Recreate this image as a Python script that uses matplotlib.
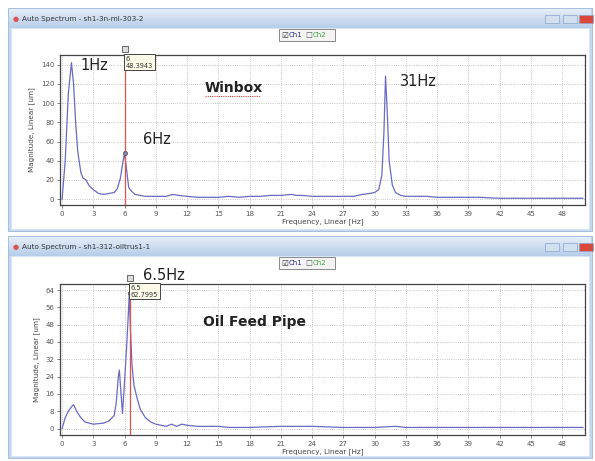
import matplotlib
matplotlib.use("Agg")
import matplotlib.pyplot as plt
import numpy as np
from matplotlib.patches import Rectangle

W, H = 595, 461

# Winbox spectrum (top)
freq_top = [0.0, 0.3, 0.6, 0.9, 1.1, 1.3, 1.5, 1.8, 2.0, 2.3, 2.6, 3.0, 3.5, 4.0, 4.5, 5.0,
            5.3, 5.6, 5.8, 6.0, 6.2, 6.4, 6.7, 7.0, 7.5, 8.0, 9.0, 10.0, 10.6, 11.2, 12.0,
            13.0, 14.0, 15.0, 16.0, 17.0, 18.0, 19.0, 20.0, 21.0, 22.0, 22.5, 23.0, 24.0,
            25.0, 26.0, 27.0, 28.0, 28.8, 29.5, 30.0, 30.4, 30.7, 30.9, 31.05, 31.2, 31.4,
            31.7, 32.0, 32.5, 33.0, 34.0, 35.0, 36.0, 38.0, 40.0, 42.0, 45.0, 48.0, 50.0]
mag_top = [0, 40, 110, 142, 120, 80, 50, 28, 22, 20, 14, 10, 6, 5, 6, 7,
           11, 22, 36, 48, 30, 12, 8, 5, 4, 3, 3, 3, 5, 4, 3,
           2, 2, 2, 3, 2, 3, 3, 4, 4, 5, 4, 4, 3,
           3, 3, 3, 3, 5, 6, 7, 10, 25, 70, 128, 95, 40,
           15, 7, 4, 3, 3, 3, 2, 2, 2, 1, 1, 1, 1]

# Oil feed pipe spectrum (bottom)
freq_bot = [0.0, 0.3, 0.6, 0.9, 1.1, 1.4, 1.8, 2.2, 3.0, 4.0, 4.5, 5.0, 5.2, 5.4, 5.5,
            5.6, 5.8, 6.0, 6.2, 6.35, 6.45, 6.55, 6.7, 6.9, 7.2, 7.5, 8.0, 8.5, 9.0,
            10.0, 10.5, 11.0, 11.5, 12.0, 13.0, 15.0, 16.0, 18.0, 21.0, 24.0, 27.0,
            30.0, 32.0, 33.0, 36.0, 40.0, 45.0, 50.0]
mag_bot = [0, 5, 8, 10, 11, 8, 5, 3, 2, 2.5, 3.5, 6, 12, 24, 27,
           20, 7, 22, 38, 52, 62.8, 48, 30, 20, 14, 9, 5, 3, 2,
           1, 2, 1, 2, 1.5, 1, 1, 0.5, 0.5, 1, 1, 0.5,
           0.5, 1, 0.5, 0.5, 0.5, 0.5, 0.5]

x_ticks = list(range(0, 49, 3))
y_ticks_top = list(range(0, 141, 20))
y_ticks_bot = list(range(0, 65, 8))

line_color = "#6a6ac4"
cursor_color = "#e8504a"


def ax_rect(x0, y0, x1, y1):
    return [x0 / W, 1 - y1 / H, (x1 - x0) / W, (y1 - y0) / H]


def frac(x, y):
    return x / W, 1 - y / H


def draw_window(fig, y0, y1, title):
    # window frame
    fig.patches.append(Rectangle(frac(8, y1), 584 / W, (y1 - y0) / H, transform=fig.transFigure,
                                 facecolor="#c3d8ef", edgecolor="#9bb8dc", lw=0.6, zorder=0))
    # title bar gradient
    grad = np.linspace(0, 1, 50).reshape(-1, 1)
    tax = fig.add_axes(ax_rect(9, y0 + 1, 591, y0 + 20), zorder=0.5)
    tax.imshow(grad, aspect="auto", cmap=matplotlib.colors.LinearSegmentedColormap.from_list(
        "tb", ["#e6eef8", "#b6cde9"]), extent=[0, 1, 0, 1])
    tax.axis("off")
    fig.text(13 / W, 1 - (y0 + 11) / H, "\u25cf", color="#d9534f", fontsize=5, va="center")
    fig.text(22 / W, 1 - (y0 + 11) / H, title, color="#333333", fontsize=5.2, va="center")
    # window buttons
    for bx, fc in [(545, "#d3e0f0"), (563, "#d3e0f0"), (579, "#d9483b")]:
        fig.patches.append(Rectangle(frac(bx, y0 + 15), 14 / W, 8 / H, transform=fig.transFigure,
                                     facecolor=fc, edgecolor="#8aa4c8", lw=0.5, zorder=1))
    # content area
    fig.patches.append(Rectangle(frac(11, y1 - 2), 578 / W, (y1 - y0 - 22) / H,
                                 transform=fig.transFigure, facecolor="white",
                                 edgecolor="#d5e3f2", lw=0.5, zorder=0.6))
    # Ch1 / Ch2 check boxes
    cy = y0 + 27
    fig.patches.append(Rectangle(frac(279, cy + 6), 56 / W, 12 / H, transform=fig.transFigure,
                                 facecolor="#f4f4f4", edgecolor="#777777", lw=0.6, zorder=1))
    fig.text(281 / W, 1 - cy / H, "\u2611", fontsize=5.5, va="center", color="#333333", zorder=2)
    fig.text(289 / W, 1 - cy / H, "Ch1", fontsize=5, va="center", color="#2b2b8c", zorder=2)
    fig.text(305 / W, 1 - cy / H, "\u2610", fontsize=5.5, va="center", color="#555555", zorder=2)
    fig.text(313 / W, 1 - cy / H, "Ch2", fontsize=5, va="center", color="#3aa63a", zorder=2)


def draw_spectrum(ax, f, m, yticks, ylim, cursor_x, cursor_y, box_text):
    ax.plot(f, m, color=line_color, lw=0.9, zorder=3)
    ax.set_xlim(-0.2, 50.2)
    ax.set_ylim(*ylim)
    ax.set_xticks(x_ticks)
    ax.set_yticks(yticks)
    ax.tick_params(labelsize=5, colors="#555555", length=2, width=0.5, pad=2)
    ax.grid(True, color="#b5b5b5", ls=":", lw=0.6)
    for s in ax.spines.values():
        s.set_color("#444444")
        s.set_linewidth(0.9)
    ax.set_xlabel("Frequency, Linear [Hz]", fontsize=5.2, color="#444444", labelpad=1)
    ax.set_ylabel("Magnitude, Linear [um]", fontsize=5.2, color="#444444", labelpad=4)
    ax.axvline(cursor_x, color=cursor_color, lw=0.9, zorder=4)
    ax.plot([cursor_x], [cursor_y], "o", ms=3, color="#8a7fa8", mec="#555555", mew=0.5, zorder=5)
    # cursor handle above the axes
    ax.plot([cursor_x], [1.04], "s", ms=5, mfc="#dddddd", mec="#555555", mew=0.6,
            transform=ax.get_xaxis_transform(), clip_on=False, zorder=6)
    ax.text(cursor_x + 0.1, 0.995, box_text, transform=ax.get_xaxis_transform(),
            fontsize=4.8, va="top", ha="left", color="#333333", zorder=6,
            bbox=dict(boxstyle="square,pad=0.25", fc="#fbfbe9", ec="#444444", lw=0.7))


fig = plt.figure(figsize=(W / 100, H / 100), dpi=100)
fig.patch.set_facecolor("white")

draw_window(fig, 8, 231, "Auto Spectrum - sh1-3n-ml-303-2")
draw_window(fig, 236, 458, "Auto Spectrum - sh1-312-oiltrus1-1")

ax1 = fig.add_axes(ax_rect(60, 55, 585, 205), zorder=2)
draw_spectrum(ax1, freq_top, mag_top, y_ticks_top, (-6, 150), 6, 48.3943, "6\n48.3943")
ax2 = fig.add_axes(ax_rect(60, 284, 585, 435), zorder=2)
draw_spectrum(ax2, freq_bot, mag_bot, y_ticks_bot, (-3, 66.8), 6.5, 62.7995, "6.5\n62.7995")

# annotations
fig.text(80 / W, 1 - 66 / H, "1Hz", fontsize=10.5, va="center", color="#222222", zorder=10)
fig.text(205 / W, 1 - 88 / H, "Winbox", fontsize=10, fontweight="bold", va="center",
         color="#222222", zorder=10)
fig.lines.append(plt.Line2D([205 / W, 260 / W], [1 - 96 / H, 1 - 96 / H], transform=fig.transFigure,
                            color="#e04040", lw=0.8, ls=(0, (1, 1)), zorder=10))
fig.text(143 / W, 1 - 139 / H, "6Hz", fontsize=10.5, va="center", color="#222222", zorder=10)
fig.text(400 / W, 1 - 82 / H, "31Hz", fontsize=10.5, va="center", color="#222222", zorder=10)
fig.text(143 / W, 1 - 275 / H, "6.5Hz", fontsize=10.5, va="center", color="#222222", zorder=10)
fig.text(203 / W, 1 - 322 / H, "Oil Feed Pipe", fontsize=10, fontweight="bold", va="center",
         color="#222222", zorder=10)

fig.savefig("out.png", dpi=100)
